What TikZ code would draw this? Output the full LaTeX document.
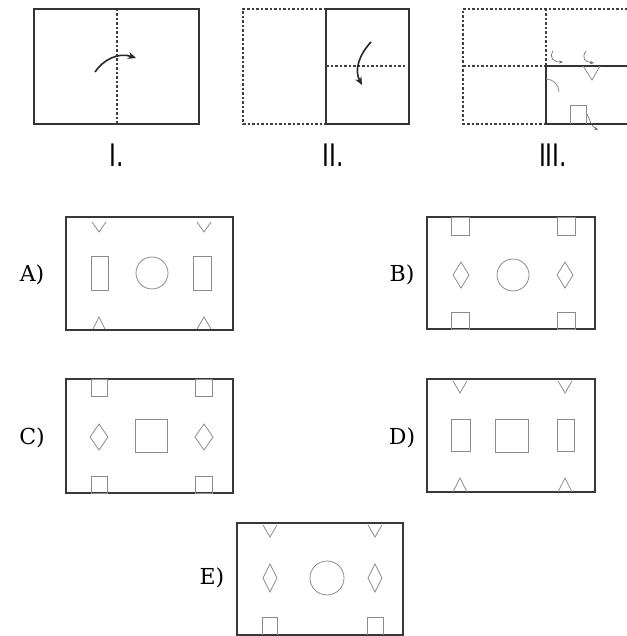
\documentclass[tikz,border=0pt]{standalone}
\usepackage{fontspec}
\setmainfont{DejaVu Serif}
\newfontfamily\lblfont{DejaVu Sans}
\usetikzlibrary{arrows.meta}
\begin{document}
\begin{tikzpicture}[x=1pt,y=-1pt,
  solidline/.style={line width=1.8pt, draw=black!80},
  dashline/.style={line width=1.5pt, draw=black!75, dash pattern=on 2.5pt off 2pt},
  box/.style={line width=1.8pt, draw=black!78},
  hole/.style={line width=0.8pt, draw=black!45},
  foldarrow/.style={line width=1.6pt, draw=black!85, -{Stealth[length=8pt,width=7pt]}},
  cutarrow/.style={line width=0.6pt, draw=black!60, -{Stealth[length=4pt,width=3pt]}},
  roman/.style={font=\lblfont\fontsize{31}{33}\selectfont, inner sep=0pt},
  choice/.style={font=\fontsize{22}{24}\selectfont, inner sep=0pt}]
\useasboundingbox (0,0) rectangle (626,636);

% ---------- Panel I ----------
\draw[solidline] (34,9) rectangle (199,124);
\draw[dashline] (117,9) -- (117,124);
\draw[foldarrow] (95,72) .. controls (103,60) and (118,52) .. (136,58);
\node[roman] (l1) at (117,155) {\scalebox{0.75}[1]{I.}};

% ---------- Panel II ----------
\draw[dashline] (326,9) -- (243,9) -- (243,124) -- (326,124);
\draw[solidline] (326,9) rectangle (409,124);
\draw[dashline] (326,66) -- (405,66);
\draw[foldarrow] (371,42) .. controls (359,55) and (354,70) .. (362,85);
\node[roman] (l2) at (333,155) {\scalebox{0.75}[1]{II.}};

% ---------- Panel III ----------
\draw[dashline] (629,66) -- (629,9) -- (463,9) -- (463,124) -- (546,124);
\draw[dashline] (546,9) -- (546,66);
\draw[dashline] (463,66) -- (546,66);
\draw[solidline] (546,66) rectangle (629,124);
% holes drawn on the folded paper
\draw[hole] (546,79) arc[start angle=-90, end angle=0, radius=13];
\draw[hole] (583,66) -- (592,80) -- (600,66);
\draw[hole] (570,124) -- (570,105) -- (586,105) -- (586,124);
% cutting arrows
\draw[cutarrow] (553,51) .. controls (549,58) and (553,62) .. (563,62);
\draw[cutarrow] (586,51) .. controls (581,58) and (585,62) .. (594,63);
\draw[cutarrow] (587,114) .. controls (590,120) and (591,126) .. (598,130);
\node[roman] (l3) at (553,155) {\scalebox{0.75}[1]{III.}};

% ---------- A ----------
\node[choice] (la) at (32,275) {A)};
\draw[box] (66,217) rectangle (233,330);
\draw[hole] (92,222) -- (99,232) -- (106,222);
\draw[hole] (197,222) -- (204,232) -- (211,222);
\draw[hole] (91,256) rectangle (108,290);
\draw[hole] (193,256) rectangle (211,290);
\draw[hole] (152,273) circle[radius=16];
\draw[hole] (93,329) -- (99,317) -- (105,329);
\draw[hole] (197,329) -- (204,317) -- (211,329);

% ---------- B ----------
\node[choice] (lb) at (402,275) {B)};
\draw[box] (427,217) rectangle (595,329);
\draw[hole] (451,217) rectangle (469,235);
\draw[hole] (557,217) rectangle (575,235);
\draw[hole] (451,312) rectangle (469,329);
\draw[hole] (557,312) rectangle (575,329);
\draw[hole] (453,275) -- (461,262) -- (469,275) -- (461,288) -- cycle;
\draw[hole] (557,275) -- (565,262) -- (573,275) -- (565,288) -- cycle;
\draw[hole] (513,275) circle[radius=16];

% ---------- C ----------
\node[choice] (lc) at (32,438) {C)};
\draw[box] (66,379) rectangle (233,493);
\draw[hole] (91,379) rectangle (107,396);
\draw[hole] (195,379) rectangle (212,396);
\draw[hole] (91,476) rectangle (107,493);
\draw[hole] (195,476) rectangle (212,493);
\draw[hole] (90,437) -- (99,424) -- (108,437) -- (99,450) -- cycle;
\draw[hole] (195,437) -- (204,424) -- (213,437) -- (204,450) -- cycle;
\draw[hole] (135,419) rectangle (167,452);

% ---------- D ----------
\node[choice] (ld) at (402,438) {D)};
\draw[box] (427,379) rectangle (595,492);
\draw[hole] (453,381) -- (460,393) -- (467,381);
\draw[hole] (558,381) -- (565,393) -- (572,381);
\draw[hole] (453,492) -- (460,478) -- (467,492);
\draw[hole] (558,492) -- (565,478) -- (572,492);
\draw[hole] (451,419) rectangle (470,451);
\draw[hole] (557,419) rectangle (574,451);
\draw[hole] (495,419) rectangle (528,452);

% ---------- E ----------
\node[choice] (le) at (212,578) {E)};
\draw[box] (237,523) rectangle (403,635);
\draw[hole] (263,525) -- (270,537) -- (277,525);
\draw[hole] (368,525) -- (375,537) -- (382,525);
\draw[hole] (263,578) -- (270,564) -- (277,578) -- (270,592) -- cycle;
\draw[hole] (368,578) -- (375,564) -- (382,578) -- (375,592) -- cycle;
\draw[hole] (327,578) circle[radius=17];
\draw[hole] (262,635) -- (262,617) -- (277,617) -- (277,635);
\draw[hole] (367,635) -- (367,617) -- (383,617) -- (383,635);
\end{tikzpicture}
\end{document}
